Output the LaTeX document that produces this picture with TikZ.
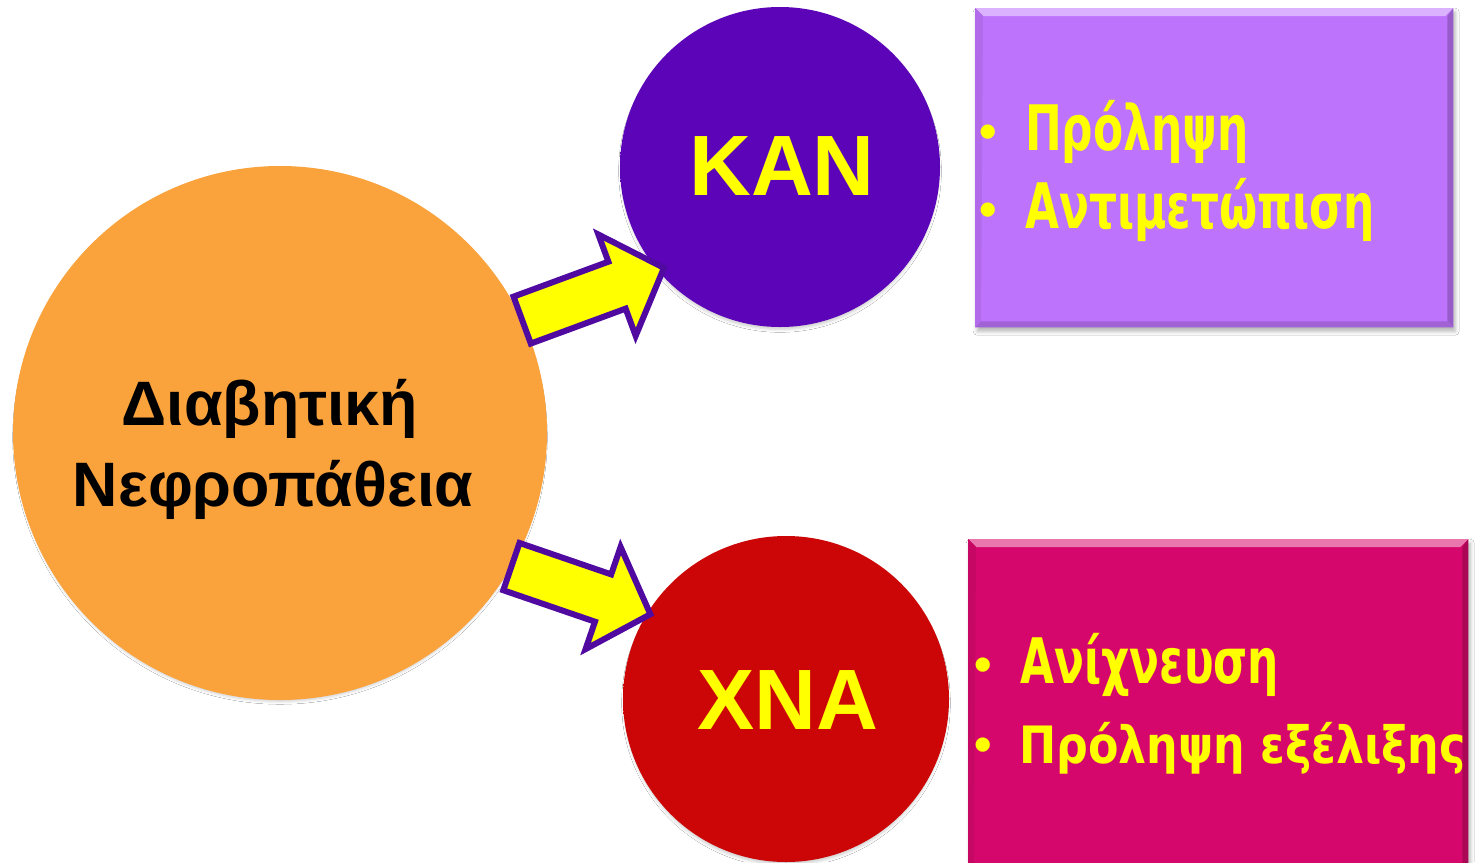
\documentclass[tikz,border=0pt]{standalone}
\usepackage{fontspec}
\usetikzlibrary{calc,shadows.blur}

\newfontfamily\circfont{Liberation Sans Bold}
\newfontfamily\boxfont{DejaVu Sans Bold}[FakeStretch=0.70]

\definecolor{orangefill}{RGB}{250,162,60}
\definecolor{kanfill}{RGB}{92,5,184}
\definecolor{xnafill}{RGB}{204,6,6}
\definecolor{lilac}{RGB}{190,115,252}
\definecolor{magentafill}{RGB}{214,7,108}
\definecolor{yellowtxt}{RGB}{255,255,0}
\definecolor{arrowline}{RGB}{80,10,160}

% flat discs with a slightly darker rim
\pgfdeclareradialshading{orangerim}{\pgfpoint{0bp}{0bp}}{color(0bp)=(orangefill); color(46bp)=(orangefill); color(49bp)=(orangefill!92!black); color(50bp)=(orangefill!78!black)}
\pgfdeclareradialshading{kanrim}{\pgfpoint{0bp}{0bp}}{color(0bp)=(kanfill); color(46bp)=(kanfill); color(49bp)=(kanfill!90!black); color(50bp)=(kanfill!75!black)}
\pgfdeclareradialshading{xnarim}{\pgfpoint{0bp}{0bp}}{color(0bp)=(xnafill); color(46bp)=(xnafill); color(49bp)=(xnafill!90!black); color(50bp)=(xnafill!75!black)}

% block arrow from a tail point #1 to a tip point #2
\newcommand\drawblockarrow[2]{%
  \coordinate (#1-base) at ($(#2)!50bp!(#1)$);
  \draw[blockarrowstyle]
    ($(#1)!25bp!90:(#2)$) -- ($(#1-base)!25bp!-90:(#1)$)
    -- ($(#1-base)!54bp!-90:(#1)$) -- (#2)
    -- ($(#1-base)!54bp!90:(#1)$) -- ($(#1-base)!25bp!90:(#1)$)
    -- ($(#1)!25bp!-90:(#2)$) -- cycle;
}

\begin{document}
\begin{tikzpicture}[x=1bp,y=-1bp,
  ball/.style={circle, inner sep=0pt,
    blur shadow={shadow xshift=0bp, shadow yshift=-4bp, shadow opacity=20, shadow blur radius=3bp, shadow scale=0.99}},
  infobox/.style={rectangle, inner sep=0pt, anchor=north west,
    blur shadow={shadow xshift=2bp, shadow yshift=-4bp, shadow opacity=30, shadow blur radius=4bp}},
  circletext/.style={font=\circfont\fontsize{63}{80}\selectfont, text=black, inner sep=0pt, anchor=base},
  abbrtext/.style={font=\circfont\fontsize{86}{90}\selectfont, text=yellowtxt, inner sep=0pt, anchor=base},
  boxtext/.style={font=\boxfont\fontsize{63}{63}\selectfont, text=yellowtxt, inner sep=0pt, anchor=base west},
  bullettext/.style={font=\circfont\fontsize{50}{50}\selectfont, text=yellowtxt, inner sep=0pt, anchor=base west},
  blockarrowstyle/.style={fill=yellowtxt, draw=arrowline, line width=6bp, line join=miter}
]
\useasboundingbox (0,0) rectangle (1477,862);
\fill[white] (0,0) rectangle (1477,862);

% information boxes
\node[infobox, fill=lilac, minimum width=478bp, minimum height=319bp] (kanbox) at (975,8) {};
\node[infobox, fill=magentafill, minimum width=500bp, minimum height=330bp] (xnabox) at (968,539) {};

% bevelled edges of the boxes
\foreach \b/\c in {kanbox/lilac, xnabox/magentafill}{
  \fill[\c!55!white]
    (\b.north west) -- (\b.north east) -- ([xshift=-8bp,yshift=-8bp]\b.north east)
    -- ([xshift=8bp,yshift=-8bp]\b.north west) -- cycle;
  \fill[\c!80!black]
    (\b.north east) -- (\b.south east) -- ([xshift=-6bp,yshift=6bp]\b.south east)
    -- ([xshift=-6bp,yshift=-8bp]\b.north east) -- cycle;
  \fill[\c!85!black]
    (\b.south west) -- (\b.south east) -- ([xshift=-6bp,yshift=6bp]\b.south east)
    -- ([xshift=6bp,yshift=6bp]\b.south west) -- cycle;
  \fill[\c!93!black]
    (\b.north west) -- (\b.south west) -- ([xshift=6bp,yshift=6bp]\b.south west)
    -- ([xshift=8bp,yshift=-8bp]\b.north west) -- cycle;
}

% circles
\node[ball, minimum size=534bp, shading=orangerim] (dn) at (280,433) {};
\node[ball, minimum size=320bp, shading=kanrim] (kan) at (780,167) {};
\node[ball, minimum size=326bp, shading=xnarim] (xna) at (786,699) {};

% circle labels
\node[circletext] (dnlineone) at (270,425) {Διαβητική};
\node[circletext] (dnlinetwo) at (273,506) {Νεφροπάθεια};
\node[abbrtext] (kanlabel) at (782,195) {ΚΑΝ};
\node[abbrtext] (xnalabel) at (788,729) {ΧΝΑ};

% arrows from the central circle
\coordinate (uptail) at (dn.25.6);
\coordinate (uptip) at ($(kan.center)!0.96!(kan.221)$);
\coordinate (lowtail) at (dn.-30.6);
\coordinate (lowtip) at ($(xna.center)!0.98!(xna.148)$);
\drawblockarrow{uptail}{uptip}
\drawblockarrow{lowtail}{lowtip}

% bullet lists
\node[bullettext] (kanbulone) at (979,148) {•};
\node[boxtext] (kanitemone) at (1025,150) {Πρόληψη};
\node[bullettext] (kanbultwo) at (979,226) {•};
\node[boxtext] (kanitemtwo) at (1025,228) {Αντιμετώπιση};

\node[bullettext] (xnabulone) at (974,681) {•};
\node[boxtext] (xnaitemone) at (1020,683) {Ανίχνευση};
\node[bullettext] (xnabultwo) at (974,761) {•};
\node[boxtext] (xnaitemtwo) at (1019,763) {\scalebox{1.01}[0.82]{Πρόληψη εξέλιξης}};
\end{tikzpicture}
\end{document}
